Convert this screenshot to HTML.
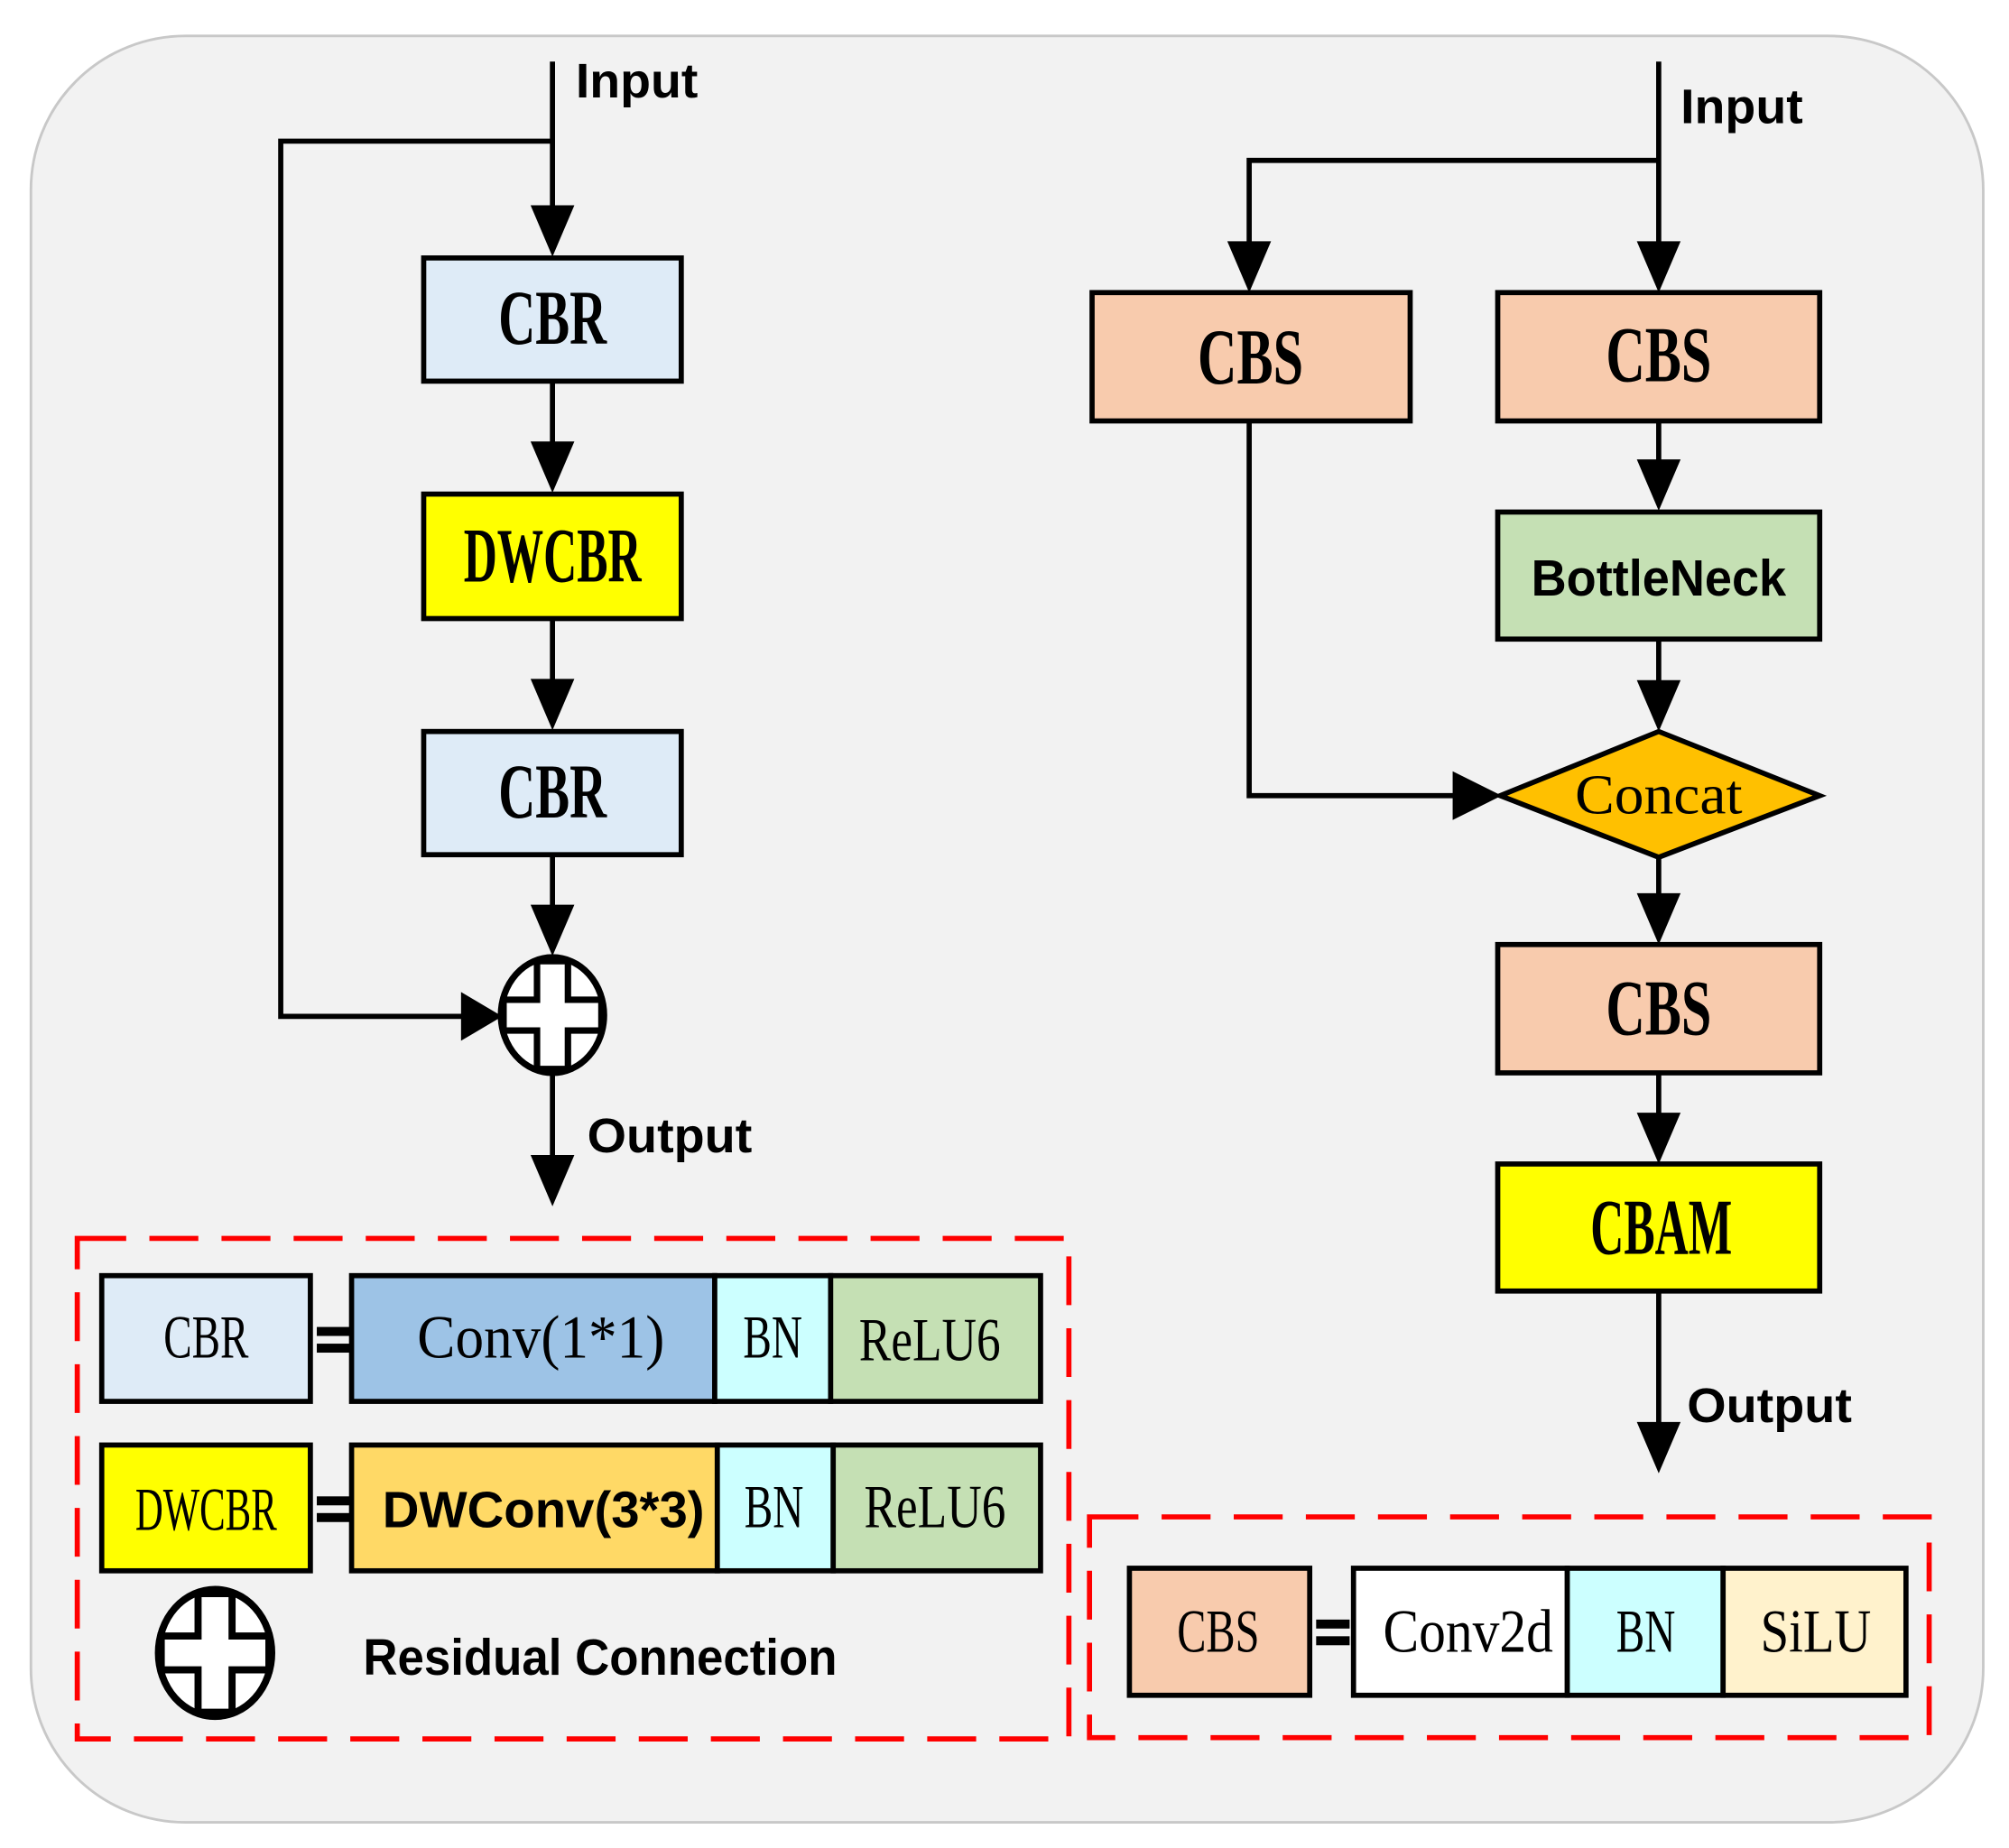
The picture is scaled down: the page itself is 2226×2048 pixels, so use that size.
<!DOCTYPE html>
<html><head><meta charset="utf-8"><style>html,body{margin:0;padding:0;background:#fff}svg{display:block}</style></head>
<body>
<svg width="2226" height="2048" viewBox="0 0 1560 1440" preserveAspectRatio="none" xmlns="http://www.w3.org/2000/svg">
<defs>
<g id="plus">
<ellipse cx="0" cy="0" rx="40" ry="45" fill="#fff" stroke="#000" stroke-width="5"/>
<path d="M-12,-42 H12 V-12 H38 V12 H12 V42 H-12 V12 H-38 V-12 H-12 Z" fill="#fff" stroke="#000" stroke-width="5"/>
</g>
</defs>
<rect x="24" y="28" width="1516" height="1392" rx="120" fill="#f2f2f2" stroke="#c8c8c8" stroke-width="2"/>
<g stroke="#000" stroke-width="4" fill="none">
<path d="M429,48 V165"/>
<path d="M429,110 H218 V792 H360"/>
<path d="M429,297 V350"/>
<path d="M429,482 V535"/>
<path d="M429,666 V710"/>
<path d="M429,836 V905"/>
<path d="M1288,48 V192"/>
<path d="M1288,125 H970 V192"/>
<path d="M1288,328 V362"/>
<path d="M1288,498 V534"/>
<path d="M970,328 V620 H1130"/>
<path d="M1288,668 V700"/>
<path d="M1288,836 V871"/>
<path d="M1288,1006 V1110"/>
</g>
<g fill="#000">
<polygon points="412,160 446,160 429,200"/>
<polygon points="412,344 446,344 429,384"/>
<polygon points="412,529 446,529 429,569"/>
<polygon points="412,705 446,705 429,745"/>
<polygon points="412,900 446,900 429,940"/>
<polygon points="358,773 358,811 390,792"/>
<polygon points="953,188 987,188 970,228"/>
<polygon points="1271,188 1305,188 1288,228"/>
<polygon points="1271,358 1305,358 1288,398"/>
<polygon points="1271,530 1305,530 1288,570"/>
<polygon points="1128,601 1128,639 1166,620"/>
<polygon points="1271,696 1305,696 1288,736"/>
<polygon points="1271,867 1305,867 1288,907"/>
<polygon points="1271,1108 1305,1108 1288,1148"/>
</g>
<g stroke="#000" stroke-width="4">
<rect x="329" y="201" width="200" height="96" fill="#deebf7"/>
<rect x="329" y="385" width="200" height="97" fill="#ffff00"/>
<rect x="329" y="570" width="200" height="96" fill="#deebf7"/>
<rect x="848" y="228" width="247" height="100" fill="#f8cbad"/>
<rect x="1163" y="228" width="250" height="100" fill="#f8cbad"/>
<rect x="1163" y="399" width="250" height="99" fill="#c5e0b4"/>
<polygon points="1165,620 1288,570 1413,620 1288,668" fill="#ffc000"/>
<rect x="1163" y="736" width="250" height="100" fill="#f8cbad"/>
<rect x="1163" y="907" width="250" height="99" fill="#ffff00"/>
</g>
<use href="#plus" x="429" y="791"/>
<g font-family="Liberation Serif, serif" text-anchor="middle" fill="#000" font-weight="bold">
<text x="429" y="268" font-size="60" textLength="84" lengthAdjust="spacingAndGlyphs">CBR</text>
<text x="429" y="453" font-size="60" textLength="138" lengthAdjust="spacingAndGlyphs">DWCBR</text>
<text x="429" y="637" font-size="60" textLength="84" lengthAdjust="spacingAndGlyphs">CBR</text>
<text x="971" y="299" font-size="62" textLength="82" lengthAdjust="spacingAndGlyphs">CBS</text>
<text x="1288" y="297" font-size="62" textLength="82" lengthAdjust="spacingAndGlyphs">CBS</text>
<text x="1288" y="634" font-size="44" font-weight="normal" textLength="130" lengthAdjust="spacingAndGlyphs">Concat</text>
<text x="1288" y="806" font-size="62" textLength="82" lengthAdjust="spacingAndGlyphs">CBS</text>
<text x="1290" y="977" font-size="62" textLength="110" lengthAdjust="spacingAndGlyphs">CBAM</text>
</g>
<g font-family="Liberation Sans, sans-serif" font-weight="bold" fill="#000">
<text x="447" y="76" font-size="38" textLength="95" lengthAdjust="spacingAndGlyphs">Input</text>
<text x="1305" y="96" font-size="38" textLength="95" lengthAdjust="spacingAndGlyphs">Input</text>
<text x="456" y="898" font-size="38" textLength="128" lengthAdjust="spacingAndGlyphs">Output</text>
<text x="1310" y="1108" font-size="38" textLength="128" lengthAdjust="spacingAndGlyphs">Output</text>
<text x="1288" y="464" font-size="40" text-anchor="middle" textLength="198" lengthAdjust="spacingAndGlyphs">BottleNeck</text>
<text x="282" y="1305" font-size="40" textLength="368" lengthAdjust="spacingAndGlyphs">Residual Connection</text>
</g>
<g fill="none" stroke="#ff0000" stroke-width="4" stroke-dasharray="38,18">
<rect x="60" y="965" width="770" height="390"/>
<rect x="846" y="1182" width="652" height="172"/>
</g>
<g stroke="#000" stroke-width="4">
<rect x="79" y="994" width="162" height="98" fill="#deebf7"/>
<rect x="273" y="994" width="282" height="98" fill="#9dc3e6"/>
<rect x="555" y="994" width="90" height="98" fill="#ccffff"/>
<rect x="645" y="994" width="163" height="98" fill="#c5e0b4"/>
<rect x="79" y="1126" width="162" height="98" fill="#ffff00"/>
<rect x="273" y="1126" width="284" height="98" fill="#ffd966"/>
<rect x="557" y="1126" width="90" height="98" fill="#ccffff"/>
<rect x="647" y="1126" width="161" height="98" fill="#c5e0b4"/>
<rect x="877" y="1222" width="140" height="99" fill="#f8cbad"/>
<rect x="1051" y="1222" width="166" height="99" fill="#ffffff"/>
<rect x="1217" y="1222" width="121" height="99" fill="#ccffff"/>
<rect x="1338" y="1222" width="142" height="99" fill="#fff2cc"/>
</g>
<g fill="#000">
<rect x="246" y="1034" width="26" height="7"/><rect x="246" y="1047" width="26" height="7"/>
<rect x="246" y="1166" width="26" height="7"/><rect x="246" y="1179" width="26" height="7"/>
<rect x="1022" y="1262" width="26" height="7"/><rect x="1022" y="1275" width="26" height="7"/>
</g>
<use href="#plus" x="167" y="1288" transform="translate(167,1288) scale(1.1) translate(-167,-1288)"/>
<g font-family="Liberation Serif, serif" text-anchor="middle" fill="#000" font-size="48">
<text x="160" y="1058" textLength="66" lengthAdjust="spacingAndGlyphs">CBR</text>
<text x="420" y="1058" textLength="192" lengthAdjust="spacingAndGlyphs">Conv(1*1)</text>
<text x="600" y="1058" textLength="46" lengthAdjust="spacingAndGlyphs">BN</text>
<text x="722" y="1060" textLength="110" lengthAdjust="spacingAndGlyphs">ReLU6</text>
<text x="160" y="1192" textLength="110" lengthAdjust="spacingAndGlyphs">DWCBR</text>
<text x="601" y="1190" textLength="46" lengthAdjust="spacingAndGlyphs">BN</text>
<text x="726" y="1190" textLength="110" lengthAdjust="spacingAndGlyphs">ReLU6</text>
<text x="946" y="1287" textLength="64" lengthAdjust="spacingAndGlyphs">CBS</text>
<text x="1140" y="1287" textLength="132" lengthAdjust="spacingAndGlyphs">Conv2d</text>
<text x="1278" y="1287" textLength="46" lengthAdjust="spacingAndGlyphs">BN</text>
<text x="1410" y="1287" textLength="86" lengthAdjust="spacingAndGlyphs">SiLU</text>
</g>
<text x="422" y="1190" font-family="Liberation Sans, sans-serif" font-weight="bold" font-size="40" text-anchor="middle" textLength="250" lengthAdjust="spacingAndGlyphs">DWConv(3*3)</text>
</svg>
</body></html>
